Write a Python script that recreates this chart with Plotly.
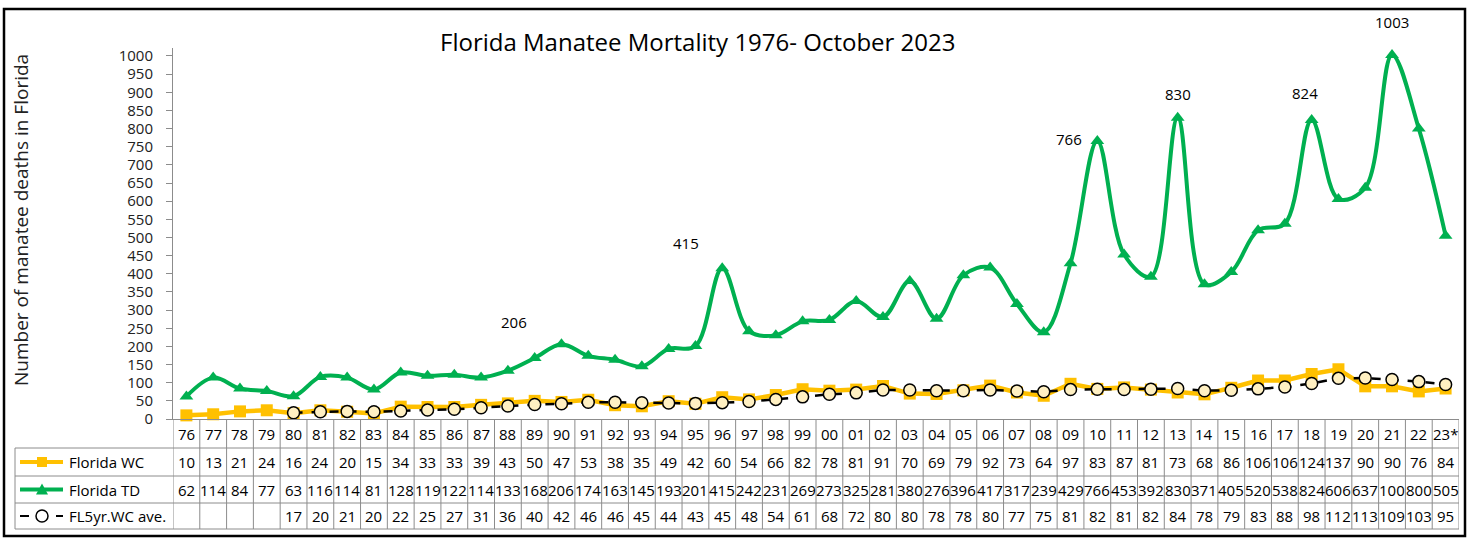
import plotly.graph_objects as go

# ---------------- data ----------------
years = ["76", "77", "78", "79", "80", "81", "82", "83", "84", "85", "86", "87",
         "88", "89", "90", "91", "92", "93", "94", "95", "96", "97", "98", "99",
         "00", "01", "02", "03", "04", "05", "06", "07", "08", "09", "10", "11",
         "12", "13", "14", "15", "16", "17", "18", "19", "20", "21", "22", "23*"]
florida_wc = [10, 13, 21, 24, 16, 24, 20, 15, 34, 33, 33, 39,
              43, 50, 47, 53, 38, 35, 49, 42, 60, 54, 66, 82,
              78, 81, 91, 70, 69, 79, 92, 73, 64, 97, 83, 87,
              81, 73, 68, 86, 106, 106, 124, 137, 90, 90, 76, 84]
florida_td = [62, 114, 84, 77, 63, 116, 114, 81, 128, 119, 122, 114,
              133, 168, 206, 174, 163, 145, 193, 201, 415, 242, 231, 269,
              273, 325, 281, 380, 276, 396, 417, 317, 239, 429, 766, 453,
              392, 830, 371, 405, 520, 538, 824, 606, 637, 1003, 800, 505]
fl5yr_wc_ave = [None, None, None, None, 17, 20, 21, 20, 22, 25, 27, 31,
                36, 40, 42, 46, 46, 45, 44, 43, 45, 48, 54, 61,
                68, 72, 80, 80, 78, 78, 80, 77, 75, 81, 82, 81,
                82, 84, 78, 79, 83, 88, 98, 112, 113, 109, 103, 95]
series_names = ["Florida WC", "Florida TD", "FL5yr.WC ave."]
labelled_peaks = ["90", "96", "10", "13", "18", "21"]
title_text = "Florida Manatee Mortality 1976- October 2023"
y_title = "Number of manatee deaths in Florida"

# ---------------- layout helpers ----------------
W, H = 1474, 538
L, R, T, B = 173, 15, 48, 7
PW = W - L - R
PH = H - T - B
BOTTOM = H - B


def px(p):
    return (p - L) / PW


def py(p):
    return (BOTTOM - p) / PH


AXIS_Y = 419
ROWS = [419, 448, 476, 503, 529]
FONT = "Open Sans"
GREEN = "#00B050"
GOLD = "#FFC000"
GRID = "#8c8c8c"

x = list(range(len(years)))

fig = go.Figure()
fig.add_trace(go.Scatter(
    x=x, y=florida_td, name=series_names[1], mode="lines+markers",
    line=dict(color=GREEN, width=4, shape="spline", smoothing=1.0),
    marker=dict(symbol="triangle-up", size=12, color=GREEN),
    cliponaxis=False))
fig.add_trace(go.Scatter(
    x=x, y=florida_wc, name=series_names[0], mode="lines+markers",
    line=dict(color=GOLD, width=4.5),
    marker=dict(symbol="square", size=12, color=GOLD),
    cliponaxis=False))
fig.add_trace(go.Scatter(
    x=x, y=fl5yr_wc_ave, name=series_names[2], mode="lines+markers",
    line=dict(color="black", width=2.5, dash="dash"),
    marker=dict(symbol="circle", size=12, color="#FFF0C2",
                line=dict(color="black", width=1.5)),
    cliponaxis=False))

shapes = []
annotations = []


def note(**kw):
    kw.setdefault("showarrow", False)
    kw.setdefault("yanchor", "middle")
    kw.setdefault("xanchor", "center")
    annotations.append(kw)


# outer frame
shapes.append(dict(type="rect", xref="paper", yref="paper",
                   x0=px(4), x1=px(1465), y0=py(536), y1=py(9),
                   line=dict(color="black", width=2.5)))

# data table grid
for p in ROWS[1:]:
    shapes.append(dict(type="line", xref="paper", yref="paper",
                       x0=px(15), x1=1, y0=py(p), y1=py(p),
                       line=dict(color=GRID, width=1)))
shapes.append(dict(type="line", xref="paper", yref="paper",
                   x0=px(15), x1=px(15), y0=py(ROWS[1]), y1=py(ROWS[-1]),
                   line=dict(color=GRID, width=1)))
for i in range(len(years) + 1):
    shapes.append(dict(type="line", xref="x", yref="paper",
                       x0=i - 0.5, x1=i - 0.5, y0=py(ROWS[0]), y1=py(ROWS[-1]),
                       line=dict(color=GRID, width=1)))

rows_text = [years,
             [str(v) for v in florida_wc],
             [str(v)[:3] for v in florida_td],
             ["" if v is None else str(v) for v in fl5yr_wc_ave]]
for r, row in enumerate(rows_text):
    yc = py((ROWS[r] + ROWS[r + 1]) / 2)
    for i, t in enumerate(row):
        if t:
            note(x=i, y=yc, xref="x", yref="paper", text=t,
                 font=dict(family=FONT, size=15, color="black"))

# legend keys in the table
for r, name in enumerate(series_names):
    yc_px = (ROWS[r + 1] + ROWS[r + 2]) / 2
    yc = py(yc_px)
    note(x=px(67), y=yc, xref="paper", yref="paper", text=name, xanchor="left",
         font=dict(family=FONT, size=15, color="black"))
    if r == 0:
        shapes.append(dict(type="line", xref="paper", yref="paper",
                           x0=px(20), x1=px(63), y0=yc, y1=yc,
                           line=dict(color=GOLD, width=4)))
        shapes.append(dict(type="rect", xref="paper", yref="paper",
                           x0=px(37), x1=px(47), y0=py(yc_px + 5), y1=py(yc_px - 5),
                           fillcolor=GOLD, line=dict(width=0)))
    elif r == 1:
        shapes.append(dict(type="line", xref="paper", yref="paper",
                           x0=px(20), x1=px(63), y0=yc, y1=yc,
                           line=dict(color=GREEN, width=4)))
        shapes.append(dict(type="path", xref="paper", yref="paper",
                           path=f"M {px(36)} {py(yc_px + 5)} L {px(48)} {py(yc_px + 5)} "
                                f"L {px(42)} {py(yc_px - 6)} Z",
                           fillcolor=GREEN, line=dict(width=0)))
    else:
        shapes.append(dict(type="line", xref="paper", yref="paper",
                           x0=px(20), x1=px(63), y0=yc, y1=yc,
                           line=dict(color="black", width=2, dash="dash")))
        shapes.append(dict(type="circle", xref="paper", yref="paper",
                           x0=px(36), x1=px(48), y0=py(yc_px + 6), y1=py(yc_px - 6),
                           fillcolor="white", line=dict(color="black", width=1.5)))

# peak labels
peak_offsets = {"90": (-47, 22), "96": (-36, 25), "10": (-28, 2),
                "13": (0, 24), "18": (-7, 27), "21": (0, 33)}
for yr in labelled_peaks:
    i = years.index(yr)
    dx, dy = peak_offsets[yr]
    note(x=i, y=florida_td[i], xref="x", yref="y", text=str(florida_td[i]),
         xshift=dx, yshift=dy, font=dict(family=FONT, size=15, color="black"))

# title and axis title
note(x=px(697), y=py(42), xref="paper", yref="paper", text=title_text,
     font=dict(family=FONT, size=24, color="black"))
note(x=px(21), y=py(220), xref="paper", yref="paper", text=y_title, textangle=-90,
     font=dict(family=FONT, size=19, color="#222222"))

fig.update_layout(
    width=W, height=H,
    margin=dict(l=L, r=R, t=T, b=B, autoexpand=False),
    paper_bgcolor="white", plot_bgcolor="white",
    showlegend=False,
    shapes=shapes, annotations=annotations,
    xaxis=dict(range=[-0.5, len(years) - 0.5], showticklabels=False,
               showgrid=False, zeroline=False, showline=True, automargin=False,
               linecolor=GRID, linewidth=1, ticks=""),
    yaxis=dict(domain=[py(AXIS_Y), 1], range=[0, 1022], dtick=50, tick0=0,
               showgrid=False, zeroline=False, showline=True, automargin=False,
               linecolor=GRID, linewidth=1, ticks="outside", ticklen=6,
               tickcolor=GRID, ticklabelstandoff=10,
               tickfont=dict(family=FONT, size=15, color="#222222")),
)

page_js = (
    "var s=document.createElement('style');"
    "s.innerHTML='html,body{margin:0;padding:0;overflow:hidden;background:#ffffff;}';"
    "document.head.appendChild(s);"
)
fig.write_html("out.html", config={"displayModeBar": False}, post_script=page_js)
